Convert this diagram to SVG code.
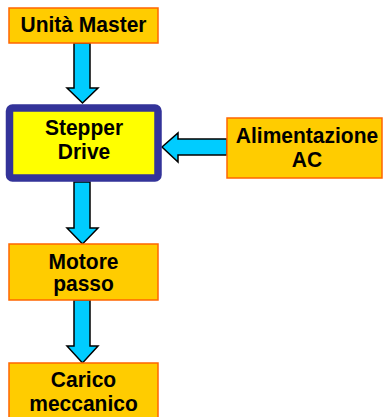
<svg xmlns="http://www.w3.org/2000/svg" width="383" height="417" viewBox="0 0 383 417">
<style>
.box{fill:#FFCC00;stroke:#FF6600;stroke-width:1.5}
.drive{fill:#FFFF00;stroke:#333399;stroke-width:7.5}
.arr{fill:#00CCFF;stroke:#000;stroke-width:1.5;stroke-linejoin:miter}
text{font-family:"Liberation Sans",Arial,sans-serif;font-weight:bold;font-size:21px;fill:#000;text-anchor:middle}
</style>
<rect width="383" height="417" fill="#fff"/>
<g id="connectors">
<polygon class="arr" points="74,43 90,43 90,88 98,88 82.5,103 67,88 74,88"/>
<polygon class="arr" points="74,182 90,182 90,228 98,228 82.5,244 67,228 74,228"/>
<polygon class="arr" points="74,300 90,300 90,346 98,346 82.5,363 67,346 74,346"/>
<polygon class="arr" points="227,139 227,155 178,155 178,162 162,147 178,133 178,139"/>
</g>
<g id="master">
<rect class="box" x="9" y="8" width="149" height="35"/>
<text transform="translate(83.5,32) scale(1,1.07)">Unità Master</text>
</g>
<g id="drive">
<rect class="drive" x="9.5" y="108" width="148.5" height="70" rx="3"/>
<text transform="translate(84,135) scale(1,1.07)">Stepper</text>
<text transform="translate(84,159) scale(1,1.07)">Drive</text>
</g>
<g id="alimentazione">
<rect class="box" x="227" y="118" width="155" height="60"/>
<text transform="translate(307,143) scale(1,1.07)">Alimentazione</text>
<text transform="translate(307,167) scale(1,1.07)">AC</text>
</g>
<g id="motore">
<rect class="box" x="9" y="244" width="149" height="56"/>
<text transform="translate(83.5,269) scale(1,1.07)">Motore</text>
<text transform="translate(83.5,291) scale(1,1.07)">passo</text>
</g>
<g id="carico">
<rect class="box" x="9" y="363" width="149" height="60"/>
<text transform="translate(83.5,387) scale(1,1.07)">Carico</text>
<text transform="translate(83.5,411) scale(1,1.07)">meccanico</text>
</g>
</svg>
